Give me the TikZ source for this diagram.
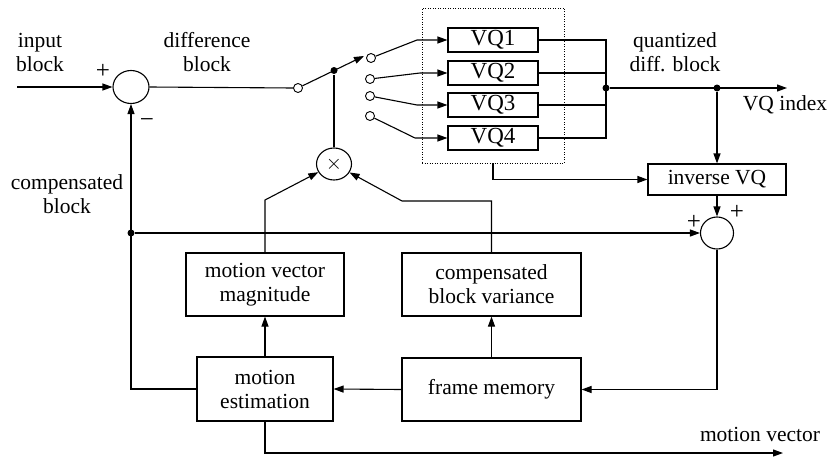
\documentclass[tikz,border=0pt]{standalone}
\usepackage{fontspec}
\setmainfont{Liberation Serif}
\usetikzlibrary{arrows.meta,shapes.geometric}
\begin{document}
\begin{tikzpicture}[x=1pt,y=-1pt, line width=1.1pt,
  every node/.style={font=\fontsize{21.5pt}{24pt}\selectfont},
  blk/.style={draw, rectangle, inner sep=0pt, align=center},
  vqblk/.style={blk, minimum width=90pt, minimum height=24pt, font=\fontsize{23pt}{24pt}\selectfont},
  sumc/.style={draw, ellipse, inner sep=0pt},
  term/.style={draw, circle, inner sep=0pt, minimum size=9pt, line width=0.9pt, fill=white},
  jdot/.style={fill, circle, inner sep=0pt, minimum size=7pt},
  lbl/.style={align=center},
  sgn/.style={font=\fontsize{25pt}{26pt}\selectfont, inner sep=0pt},
  arr/.style={-{Triangle[length=10pt,width=7pt]}},
]
\useasboundingbox (0,0) rectangle (829,460);

% dotted VQ bank
\node[draw, dash pattern=on 1pt off 1.5pt, line width=0.8pt, minimum width=142pt, minimum height=155pt, inner sep=0pt] (bank) at (493,85.5) {};

% blocks
\node[vqblk] (vq1) at (493,40) {VQ1};
\node[vqblk] (vq2) at (493,73) {VQ2};
\node[vqblk] (vq3) at (493,105) {VQ3};
\node[vqblk] (vq4) at (493,138) {VQ4};
\node[blk, minimum width=138pt, minimum height=31pt] (ivq) at (717,179.5) {inverse VQ};
\node[blk, minimum width=158pt, minimum height=63pt] (mvm) at (265,284.5) {motion vector\\magnitude};
\node[blk, minimum width=179pt, minimum height=63pt] (cbv) at (491.5,284.5) {compensated\\block variance};
\node[blk, minimum width=136pt, minimum height=64pt] (me) at (265,389) {motion\\estimation};
\node[blk, minimum width=179pt, minimum height=63pt] (fm) at (491.5,389.5) {frame memory};

% summers and multiplier
\node[sumc, minimum width=36pt, minimum height=33pt] (sum1) at (131,87) {};
\node[sumc, minimum width=33pt, minimum height=32pt] (sum2) at (717,233) {};
\node[sumc, minimum width=35pt, minimum height=32pt, font=\fontsize{20pt}{20pt}\selectfont] (mult) at (334,164) {$\times$};

% switch terminals
\node[term] (swin) at (298,88) {};
\node[term] (o1) at (371,58) {};
\node[term] (o2) at (370,79) {};
\node[term] (o3) at (370,96) {};
\node[term] (o4) at (370,116) {};

% junction dots
\node[jdot] (swdot) at (334,70.5) {};
\node[jdot] (busdot) at (606,88) {};
\node[jdot] (qdot) at (717,88) {};
\node[jdot] (cdot) at (131,233) {};

% free ends
\coordinate (inp) at (17,87);
\coordinate (swtip) at (364,56);
\coordinate (vqout) at (787,88);
\coordinate (mvout) at (783,453);

% connectors
\draw[arr] (inp) -- (sum1.west);
\draw (sum1.east) -- (swin.west);
\draw[arr] (swin) -- (swtip);
\draw (mult.north) -- (swdot);
\draw[arr] (o1) -- (417,40) -- (vq1.west);
\draw[arr] (o2) -- (420,73) -- (vq2.west);
\draw[arr] (o3) -- (417,105) -- (vq3.west);
\draw[arr] (o4) -- (415,138) -- (vq4.west);
\draw (vq1.east) -- (606,40) -- (606,138) -- (vq4.east);
\draw (vq2.east) -- (606,73);
\draw (vq3.east) -- (606,105);
\draw[arr] (busdot) -- (vqout);
\draw[arr] (qdot) -- (ivq.north);
\draw[arr] (bank.south) |- (ivq.west);
\draw[arr] (ivq.south) -- (sum2.north);
\draw[arr] (cdot) -- (sum2.west);
\draw[arr] (sum2.south) |- (fm.east);
\draw[arr] (fm.north) -- (cbv.south);
\draw[arr] (cbv.north) -- (491.5,201) -- (402,201) -- (mult);
\draw[arr] (mvm.north) -- (265,200) -- (mult);
\draw[arr] (me.north) -- (mvm.south);
\draw[arr] (fm.west) -- (me.east);
\draw[arr] (me.west) -| (sum1.south);
\draw[arr] (me.south) |- (mvout);

% labels
\node[lbl] at (40,52) {input\\block};
\node[lbl] at (207,52) {difference\\block};
\node[lbl] at (675,52) {quantized\\diff. block};
\node at (785,105) {VQ index};
\node[lbl] at (67,194) {compensated\\block};
\node at (760,434) {motion vector};
\node[sgn] at (103,71) {+};
\node[sgn] at (147,123) {−};
\node[sgn] at (737,212) {+};
\node[sgn] at (694,222) {+};
\end{tikzpicture}
\end{document}
